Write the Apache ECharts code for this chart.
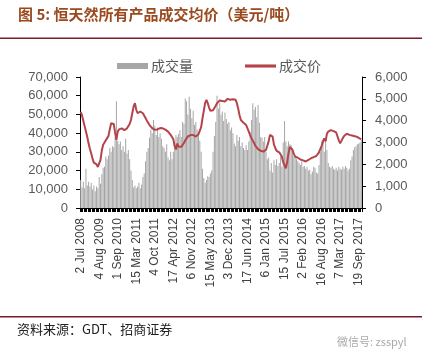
<!DOCTYPE html>
<html><head><meta charset="utf-8">
<script src="https://cdn.jsdelivr.net/npm/echarts@6/dist/echarts.min.js"></script>
<style>html,body{margin:0;padding:0;background:#fff}#c{width:422px;height:360px}</style>
</head><body><div id="c"></div>
<script>
// Tick labels shown every 14 auctions
const tickLabels = ['2 Jul 2008','4 Aug 2009','1 Sep 2010','15 Mar 2011','4 Oct 2011','17 Apr 2012','6 Nov 2012','15 May 2013','3 Dec 2013','17 Jun 2014','6 Jan 2015','15 Jul 2015','2 Feb 2016','16 Aug 2016','7 Mar 2017','19 Sep 2017'];
const labelStep = 14;
// 成交量 (tonnes), one per auction
const volume = [
15000,11000,14000,10500,21000,12000,14000,11500,13500,10000,
12000,9000,11500,10500,16500,13000,18000,21500,22000,27500,
26000,28000,32000,30000,33000,32500,38000,57000,36000,34000,
35500,31000,33000,30000,37000,29000,31000,26000,20000,15000,
11000,12000,10500,11500,13500,10500,12500,16500,18500,25000,
30000,32000,37500,42000,40000,47000,44000,39000,43000,38000,
40000,37000,33000,32000,30000,34000,27000,25500,30000,26000,
30000,35500,39000,38000,39500,41500,38000,46000,45000,58500,
57000,50000,59500,53000,48000,52000,44500,46000,42000,40000,
36000,30000,21000,16000,13500,15000,17000,16500,18500,20000,
30000,38500,46000,60000,53000,56000,50000,51500,46500,51000,
47500,45000,46000,41500,43000,40000,34500,33000,39000,36000,
38000,33000,35000,32000,31000,33500,31000,35500,40500,47000,
56000,52500,54000,48500,55000,45500,38000,37500,35500,38000,
30000,26000,27000,20000,24000,19000,25500,23000,26000,22500,
24000,27500,22000,35000,46500,35500,33000,35500,34000,33500,
32000,27500,28000,26000,25000,24000,23000,25000,22000,22500,
21000,22000,20000,20500,18000,19500,22000,21500,19000,18500,
23000,30000,35500,36500,30000,37000,31000,24000,22000,21500,
22500,21000,20500,21500,20000,22000,21000,20500,22000,21000,
22500,21500,20000,21000,25500,27500,31000,32500,33000,34000,
34500,35000,36500];
// 成交价 (USD/t)
const price = [
4400,4250,4000,3750,3500,3250,2950,2700,2500,2250,
2080,2150,2000,1880,1830,2200,2650,2900,3000,3100,
3200,3300,3600,3880,3950,3850,3450,3120,3500,3600,
3650,3650,3600,3570,3600,3650,3700,3850,4030,4350,
4650,4800,4500,4340,4400,4420,4380,4340,4250,4120,
4000,3900,3800,3720,3660,3620,3580,3570,3600,3650,
3660,3650,3650,3620,3590,3570,3500,3430,3350,3250,
3150,2830,2680,2950,2800,2730,2800,2880,2980,3100,
3190,3280,3340,3340,3330,3340,3300,3270,3300,3380,
3420,3700,4100,4450,4800,4950,4800,4600,4450,4410,
4480,4570,4680,4800,4870,4920,4950,4900,4870,4880,
4950,5000,4950,4960,4980,4980,5000,4960,4800,4550,
4250,4030,3950,3900,3880,3800,3730,3500,3340,3200,
3110,2980,2850,2780,2700,2660,2620,2600,2580,2600,
2660,2750,3050,3350,3400,3270,2900,2750,2620,2580,
2550,2500,2350,2100,1950,1820,2120,2500,2800,2780,
2660,2480,2350,2280,2300,2250,2220,2200,2180,2150,
2130,2150,2200,2250,2280,2300,2330,2350,2380,2430,
2550,2700,2850,3040,3190,3050,3400,3500,3570,3570,
3540,3520,3500,3460,3420,3100,2960,2930,3200,3300,
3350,3400,3380,3350,3340,3320,3300,3290,3280,3250,
3200,3180,3150];

const categories = volume.map((v, i) => (i % labelStep === 0 && tickLabels[i / labelStep]) ? tickLabels[i / labelStep] : '');
const fmt = v => v.toLocaleString('en-US');
const numFont = 'Liberation Sans, Arial, sans-serif';
const cjkFont = 'Noto Sans CJK SC, sans-serif';

const chart = echarts.init(document.getElementById('c'), null, {renderer: 'canvas'});
chart.setOption({
  animation: false,
  backgroundColor: '#fff',
  grid: {left: 80, right: 60, top: 77, bottom: 152, containLabel: false},
  legend: {
    top: 54, left: 112, itemGap: 52, itemWidth: 31, itemHeight: 6,
    textStyle: {fontFamily: cjkFont, fontSize: 14, color: '#595959', padding: [0, 0, 0, -2]},
    data: [
      {name: '成交量', icon: 'rect'},
      {name: '成交价', icon: 'path://M0,0 L10,0 L10,1 L0,1 Z'}
    ]
  },
  xAxis: {
    type: 'category', data: categories, boundaryGap: true,
    axisLine: {lineStyle: {color: '#000', width: 1}},
    axisTick: {show: true, interval: 0, length: 4, lineStyle: {color: '#000'}},
    axisLabel: {interval: 0, rotate: 90, fontFamily: numFont, fontSize: 12, color: '#404040', margin: 10}
  },
  yAxis: [
    {type: 'value', min: 0, max: 70000, interval: 10000,
     axisLine: {show: true, lineStyle: {color: '#000'}},
     axisTick: {show: true, length: 4, lineStyle: {color: '#000'}},
     splitLine: {show: false},
     axisLabel: {formatter: fmt, fontFamily: numFont, fontSize: 13, color: '#595959', margin: 12}},
    {type: 'value', min: 0, max: 6000, interval: 1000, position: 'right',
     axisLine: {show: true, lineStyle: {color: '#000'}},
     axisTick: {show: true, length: 4, lineStyle: {color: '#000'}},
     splitLine: {show: false},
     axisLabel: {formatter: fmt, fontFamily: numFont, fontSize: 13, color: '#595959', margin: 13}}
  ],
  series: [
    {name: '成交量', type: 'bar', data: volume, yAxisIndex: 0,
     itemStyle: {color: '#A6A6A6'}, barCategoryGap: '50%', large: false},
    {name: '成交价', type: 'line', data: price, yAxisIndex: 1,
     symbol: 'none', lineStyle: {color: '#B5444A', width: 2}, itemStyle: {color: '#B5444A'}}
  ],
  graphic: [
    {type: 'text', left: 18, top: 7, style: {text: '图 5: 恒天然所有产品成交均价（美元/吨）', fontFamily: cjkFont, fontSize: 15, fontWeight: 'bold', fill: '#9A4A1E'}},
    {type: 'rect', shape: {x: 0, y: 37.5, width: 422, height: 1.5}, style: {fill: '#7A1A2A'}},
    {type: 'rect', shape: {x: 0, y: 316, width: 422, height: 1.5}, style: {fill: '#7A1A2A'}},
    {type: 'text', left: 17, top: 323, style: {text: '资料来源：GDT、招商证券', fontFamily: cjkFont, fontSize: 13, fill: '#222'}},
    {type: 'text', left: 337, top: 336, style: {text: '微信号: zsspyl', fontFamily: cjkFont, fontSize: 11, fill: '#aaa'}}
  ]
});
</script></body></html>
